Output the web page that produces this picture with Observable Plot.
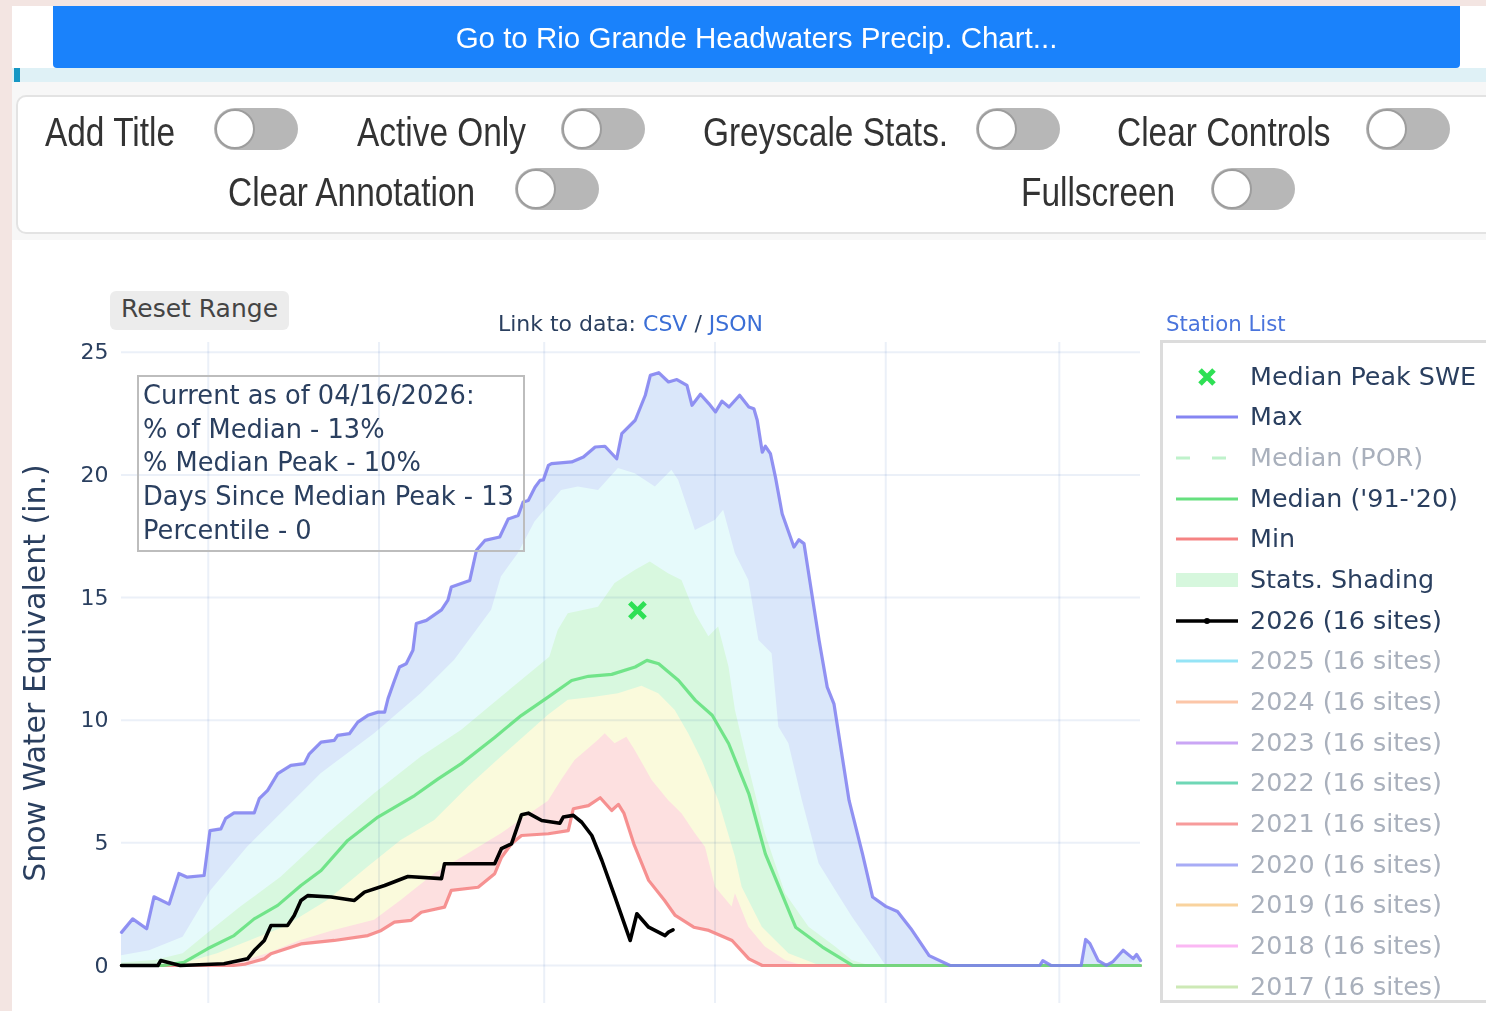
<!DOCTYPE html>
<html><head><meta charset="utf-8">
<script src="https://cdn.jsdelivr.net/npm/d3@7"></script>
<script src="https://cdn.jsdelivr.net/npm/@observablehq/plot@0.6"></script>
<style>
html,body{margin:0;padding:0;background:#fff;width:1486px;height:1011px;overflow:hidden;}
body{position:relative;font-family:"DejaVu Sans",sans-serif;}
.a{position:absolute;}
.lbl{position:absolute;font-family:"Liberation Sans",sans-serif;font-size:41px;color:#333;line-height:48px;white-space:nowrap;transform:scaleX(0.815);transform-origin:0 0;}
.tog{position:absolute;width:84px;height:42px;border-radius:21px;background:#b7b7b7;}
.tog::after{content:"";position:absolute;left:1px;top:1px;width:36px;height:36px;border-radius:50%;background:#fff;border:2px solid #9d9d9d;}
.leg{position:absolute;left:1250px;font-size:25.4px;white-space:nowrap;line-height:30px;}
.ann{font-size:25.7px;color:#2a3f5f;line-height:33.7px;white-space:nowrap;}
#chart svg{max-width:none !important;}
</style></head><body>
<div class="a" style="left:0;top:0;width:12px;height:1011px;background:#f3e5e2"></div>
<div class="a" style="left:0;top:0;width:1486px;height:6px;background:#f3e5e2"></div>
<div class="a" style="left:53px;top:6px;width:1407px;height:62px;background:#1a82fb;border-radius:0 0 4px 4px;color:#fff;font-family:'Liberation Sans',sans-serif;font-size:29.5px;line-height:64px;text-align:center;">Go to Rio Grande Headwaters Precip. Chart...</div>
<div class="a" style="left:12px;top:68px;width:1474px;height:14px;background:#dff1f6"></div>
<div class="a" style="left:14px;top:68px;width:6px;height:14px;background:#1597c4"></div>
<div class="a" style="left:12px;top:82px;width:1474px;height:158px;background:#f7f7f7"></div>
<div class="a" style="left:16px;top:95px;width:1480px;height:135px;background:#fff;border:2px solid #e3e3e3;border-radius:10px;"></div>
<div class="lbl" style="left:45px;top:108px">Add Title</div>
<div class="lbl" style="left:357px;top:108px">Active Only</div>
<div class="lbl" style="left:703px;top:108px">Greyscale Stats.</div>
<div class="lbl" style="left:1117px;top:108px">Clear Controls</div>
<div class="lbl" style="left:228px;top:168px">Clear Annotation</div>
<div class="lbl" style="left:1021px;top:168px">Fullscreen</div>
<div class="tog" style="left:214px;top:108px"></div>
<div class="tog" style="left:561px;top:108px"></div>
<div class="tog" style="left:976px;top:108px"></div>
<div class="tog" style="left:1366px;top:108px"></div>
<div class="tog" style="left:515px;top:168px"></div>
<div class="tog" style="left:1211px;top:168px"></div>

<div id="chart" class="a" style="left:0;top:290px;width:1150px;height:760px;"></div>

<div class="a" style="left:110px;top:291px;width:168px;height:39px;padding-left:11px;background:#ececec;border-radius:6px;font-size:25px;color:#444;line-height:35px;">Reset Range</div>
<div class="a" style="left:380px;top:311px;width:501px;text-align:center;font-size:22px;line-height:26px;color:#2a3f5f;white-space:nowrap;">Link to data: <span style="color:#3b6fd6">CSV</span> / <span style="color:#3b6fd6">JSON</span></div>
<div class="a" style="left:1166px;top:312px;font-size:21.3px;line-height:24px;color:#4a74dc;white-space:nowrap;">Station List</div>

<div class="a" style="left:137px;top:375px;width:380px;height:171px;border:2px solid #bdbdbd;padding:2px 0 0 4px;box-sizing:content-box;">
<div class="ann">Current as of 04/16/2026:</div>
<div class="ann">% of Median - 13%</div>
<div class="ann">% Median Peak - 10%</div>
<div class="ann">Days Since Median Peak - 13</div>
<div class="ann">Percentile - 0</div>
</div>

<div id="legend" class="a" style="left:1160px;top:340px;width:340px;height:657px;border:3px solid #dcdcdc;background:#fff;"></div>

<script>
// x = day of water year 2026 (0 = Oct 1, 2025), y = snow water equivalent (in.)
const gridDays = [31, 92, 151, 212, 273, 335];          // Nov 1, Jan 1, Mar 1, May 1, Jul 1, Sep 1
const gridDayLabels = ["Nov 1", "Jan 1", "Mar 1", "May 1", "Jul 1", "Sep 1"];
const sweTicks = [0, 5, 10, 15, 20, 25];
const yTitle = "Snow Water Equivalent (in.)";

const maxSwe = [[0,1.35],[4,1.9],[9,1.5],[11.6,2.8],[17,2.5],[20.5,3.75],[23.5,3.6],[29.5,3.67],[31.6,5.5],[35.5,5.57],[37.2,6.0],[40.2,6.22],[47.4,6.22],[49.2,6.8],[52.2,7.14],[55.8,7.82],[60.5,8.16],[65.3,8.23],[67.1,8.63],[71.3,9.11],[76,9.18],[77.2,9.38],[81.4,9.45],[84.4,9.92],[88,10.2],[91.6,10.33],[94,10.33],[95.2,10.88],[97.5,11.62],[99.3,12.17],[101.7,12.3],[104.1,12.85],[105.3,13.94],[108.9,14.07],[114.3,14.5],[116.6,14.9],[117.8,15.43],[124.4,15.7],[126.8,16.93],[129.8,17.33],[135.1,17.47],[138.1,18.2],[141.7,18.35],[143.5,18.9],[145.3,18.96],[147.7,19.5],[149.5,19.78],[150.7,19.8],[152.5,20.39],[153.6,20.46],[160.8,20.53],[165,20.73],[169.2,21.14],[172.7,21.17],[176.9,20.66],[178.7,21.68],[183.5,22.23],[187.1,23.25],[188.9,24.06],[191.9,24.17],[195.4,23.79],[198.4,23.89],[202,23.65],[203.8,22.84],[206.8,23.29],[209.8,22.91],[212.2,22.57],[214.5,23.01],[217,22.77],[220.8,23.25],[224.1,22.77],[225.9,22.7],[227.1,22.23],[228.9,20.93],[230,21.17],[231.8,20.87],[233.6,19.91],[236,18.42],[240.2,17.06],[242,17.36],[243.8,17.2],[249.2,13.25],[252.1,11.35],[254.5,10.67],[259.9,6.73],[264.7,4.55],[268.3,2.79],[273,2.41],[277.2,2.2],[282,1.5],[288.5,0.4],[296,0],[328,0],[329.1,0.2],[332,0],[342.8,0],[344.4,1.06],[345.9,0.9],[348.9,0.2],[351.8,0],[354.2,0.16],[357.8,0.62],[361.4,0.28],[362.6,0.45],[364,0.2]];

const p90Swe = [[0,0.4],[10,0.6],[22,1.15],[32,3.06],[45,4.82],[57,6.19],[71.3,7.82],[90.4,9.45],[107,11.08],[119,12.44],[132.2,14.48],[135.7,15.84],[141.7,16.79],[147.7,18.08],[157.2,19.37],[163.2,19.51],[170.4,19.37],[177.5,20.26],[183.5,20.05],[190.7,19.51],[196.6,20.19],[199,19.78],[205,17.74],[212.2,18.15],[215.1,18.56],[219.3,16.79],[224.1,15.7],[227.7,13.25],[232.4,12.71],[234.8,9.72],[238.4,9.04],[243.2,6.73],[249.2,4.15],[255.1,3.06],[261.1,1.97],[269.4,0.61],[273,0],[364,0]];

const p70Swe = [[0,0.1],[12,0.2],[22,0.48],[30.7,1.29],[42.6,2.38],[57,3.6],[73.7,5.37],[90.4,7.0],[107.1,8.5],[121.4,9.58],[135.7,10.94],[153,12.57],[156,13.66],[159.6,14.34],[170.4,14.61],[176.3,15.57],[183.5,16.1],[188.9,16.45],[195.4,15.97],[200.2,15.7],[205,14.34],[209.8,13.4],[213.3,13.8],[217,12.17],[219.3,10.4],[224.1,8.09],[230,5.37],[237.2,2.92],[245.6,1.56],[255.1,0.75],[261,0.2],[267,0],[364,0]];

const medianSwe = [[0,0],[15,0],[22.3,0.13],[30.7,0.68],[40.2,1.22],[47.4,1.9],[55.8,2.45],[64.1,3.26],[71.3,3.87],[80.8,5.1],[91.6,6.05],[104.7,6.93],[113.1,7.61],[121.4,8.23],[133.3,9.3],[142.9,10.2],[152.5,10.95],[160.8,11.62],[166.8,11.79],[175.1,11.87],[183.5,12.17],[187.7,12.44],[191.9,12.3],[199,11.62],[205,10.81],[211,10.2],[216.9,9.04],[224.1,7.0],[230,4.55],[240.8,1.56],[250.4,0.75],[261.1,0],[364,0]];

const p30Swe = [[0,0],[22,0.07],[34.3,0.48],[46.2,1.02],[58.1,1.56],[73.7,2.65],[88,4.01],[99.9,5.1],[111.9,5.91],[123.8,7.27],[135.7,8.5],[152.5,10.2],[159.6,10.81],[169.2,10.94],[177.5,11.08],[185.9,11.38],[191.9,11.08],[197.8,10.4],[202.6,9.45],[207.4,8.36],[213.3,6.73],[219.3,4.42],[221.7,3.19],[228.9,1.56],[238.4,0.48],[249.2,0],[364,0]];

const p10Swe = [[0,0],[40,0.05],[52.2,0.48],[64.1,1.02],[76,1.43],[90.4,1.84],[99.9,2.65],[111.9,3.74],[123.8,4.55],[135.7,5.37],[152.5,6.7],[157.2,7.55],[162,8.36],[170.4,9.18],[172.8,9.45],[176.3,9.04],[180.5,9.31],[183.5,8.77],[189.5,7.55],[195.4,6.73],[200.2,6.19],[205,5.37],[208.6,4.82],[212.2,3.19],[218.1,2.38],[219.3,2.92],[224.1,1.56],[230,0.75],[237.2,0.2],[243,0],[364,0]];

const minSwe = [[0,0],[40,0],[44,0.05],[51,0.27],[53.4,0.48],[64.1,0.88],[76,1.02],[88,1.22],[92.8,1.43],[97.5,1.77],[103.5,1.84],[107.1,2.17],[115.4,2.38],[117.8,3.06],[127.4,3.19],[133.3,3.74],[135.7,4.4],[139.3,4.96],[142.9,5.3],[152.5,5.37],[159.6,5.5],[161.4,6.39],[166.8,6.52],[171,6.84],[175.1,6.32],[177.5,6.57],[179.5,6.2],[183,4.96],[188.3,3.47],[194,2.65],[197.8,2.04],[204.4,1.56],[209.8,1.43],[218.1,1.02],[224.1,0.27],[228.9,0],[364,0]];

const wy2026 = [[0,0],[13,0],[14,0.2],[16.4,0.13],[21,0],[36.6,0.07],[45,0.27],[47.4,0.61],[51,1.02],[53.4,1.63],[59.3,1.63],[61.7,2.04],[64.1,2.65],[66.5,2.85],[74.9,2.79],[83.2,2.65],[86.8,2.99],[94,3.26],[102.3,3.63],[114.3,3.54],[115.4,4.15],[133.3,4.15],[135.7,4.76],[139.3,4.96],[142.9,6.15],[145.3,6.21],[150.1,5.91],[156.6,5.8],[157.8,6.05],[161.4,6.12],[164.4,5.84],[168,5.3],[171.6,4.28],[176.3,2.79],[181.7,1.02],[184.1,2.11],[188.3,1.56],[194.2,1.22],[195.4,1.36],[197,1.45]];

const medianPeak = [[184.3, 14.48]];

const legendLabels = ["Median Peak SWE","Max","Median (POR)","Median ('91-'20)","Min","Stats. Shading","2026 (16 sites)","2025 (16 sites)","2024 (16 sites)","2023 (16 sites)","2022 (16 sites)","2021 (16 sites)","2020 (16 sites)","2019 (16 sites)","2018 (16 sites)","2017 (16 sites)"];
const legendShown = [true,true,false,true,true,true,true,false,false,false,false,false,false,false,false,false];
const legendKinds = ["x","line","dash","line","line","band","marker","line","line","line","line","line","line","line","line","line"];
const legendColors = ["#2ee055","#8585f2","#bff2cb","#66e07f","#f58383","#d6f7dd","#000000","#95e4f6","#fcc6a8","#caa6f5","#6fd7b6","#f79b9b","#a8acf6","#f9d39e","#fbb8f4","#cde9b6"];

const X = d => d[0], Y = d => d[1];
const chart = Plot.plot({
  width: 1150, height: 760,
  marginLeft: 121, marginRight: 10, marginTop: 52, marginBottom: 47,
  x: {domain: [0, 364], axis: null},
  y: {domain: [-1.55, 25.4], axis: null},
  style: {fontFamily: "DejaVu Sans", color: "#2a3f5f", background: "transparent", overflow: "visible"},
  marks: [
    Plot.areaY(maxSwe, {x: X, y: Y, fill: "#dae7fa"}),
    Plot.areaY(p90Swe, {x: X, y: Y, fill: "#e6fafb"}),
    Plot.areaY(p70Swe, {x: X, y: Y, fill: "#d8f8df"}),
    Plot.areaY(p30Swe, {x: X, y: Y, fill: "#fafadc"}),
    Plot.areaY(p10Swe, {x: X, y: Y, fill: "#fde0e0"}),
    Plot.areaY(minSwe, {x: X, y: Y, fill: "#ffffff"}),
    Plot.gridX(gridDays, {stroke: "#ebf0f8", strokeOpacity: 1, strokeWidth: 2, mixBlendMode: "multiply"}),
    Plot.gridY(sweTicks, {stroke: "#ebf0f8", strokeOpacity: 1, strokeWidth: 2, mixBlendMode: "multiply"}),
    Plot.axisY(sweTicks, {tickSize: 0, tickPadding: 13, fontSize: 22, label: null}),
    Plot.text([yTitle], {text: d => d, frameAnchor: "left", textAnchor: "middle", lineAnchor: "middle", rotate: -90, dx: -86, fontSize: 30, fill: "#2a3f5f"}),
    Plot.lineY(minSwe, {x: X, y: Y, stroke: "#f47f7f", strokeWidth: 3.2, strokeOpacity: 0.85}),
    Plot.lineY(medianSwe, {x: X, y: Y, stroke: "#5fe07a", strokeWidth: 3.2, strokeOpacity: 0.85}),
    Plot.lineY(maxSwe, {x: X, y: Y, stroke: "#7f7ff0", strokeWidth: 3.2, strokeOpacity: 0.85}),
    Plot.lineY(wy2026, {x: X, y: Y, stroke: "#000", strokeWidth: 3.6}),
    Plot.dot(medianPeak, {x: X, y: Y, symbol: "times", stroke: "#2ee055", strokeWidth: 5, r: 7})
  ]
});
chart.style.maxWidth = "none";
document.getElementById("chart").appendChild(chart);

// legend
const leg = document.getElementById("legend");
const ns = "http://www.w3.org/2000/svg";
legendLabels.forEach((lab, i) => {
  const cy = 33.5 + i * 40.67;   // relative to legend box
  const sv = document.createElementNS(ns, "svg");
  sv.setAttribute("width", 70); sv.setAttribute("height", 20);
  sv.style.position = "absolute"; sv.style.left = "13px"; sv.style.top = (cy - 10) + "px";
  const c = legendColors[i], k = legendKinds[i];
  let html = "";
  if (k === "x") html = `<path d="M24,3L38,17M38,3L24,17" stroke="${c}" stroke-width="5"/>`;
  else if (k === "band") html = `<rect x="0" y="3" width="62" height="14" fill="${c}"/>`;
  else if (k === "dash") html = `<path d="M0,10H62" stroke="${c}" stroke-width="3" stroke-dasharray="14,22"/>`;
  else if (k === "marker") html = `<path d="M0,10H62" stroke="${c}" stroke-width="3.5"/><circle cx="31" cy="10" r="3" fill="${c}"/>`;
  else html = `<path d="M0,10H62" stroke="${c}" stroke-width="3"/>`;
  sv.innerHTML = html;
  leg.appendChild(sv);
  const t = document.createElement("div");
  t.className = "leg";
  t.style.left = "87px"; t.style.top = (cy - 16) + "px";
  t.style.color = legendShown[i] ? "#2a3f5f" : "#a9b0bc";
  t.textContent = lab;
  leg.appendChild(t);
});
</script>
</body></html>
